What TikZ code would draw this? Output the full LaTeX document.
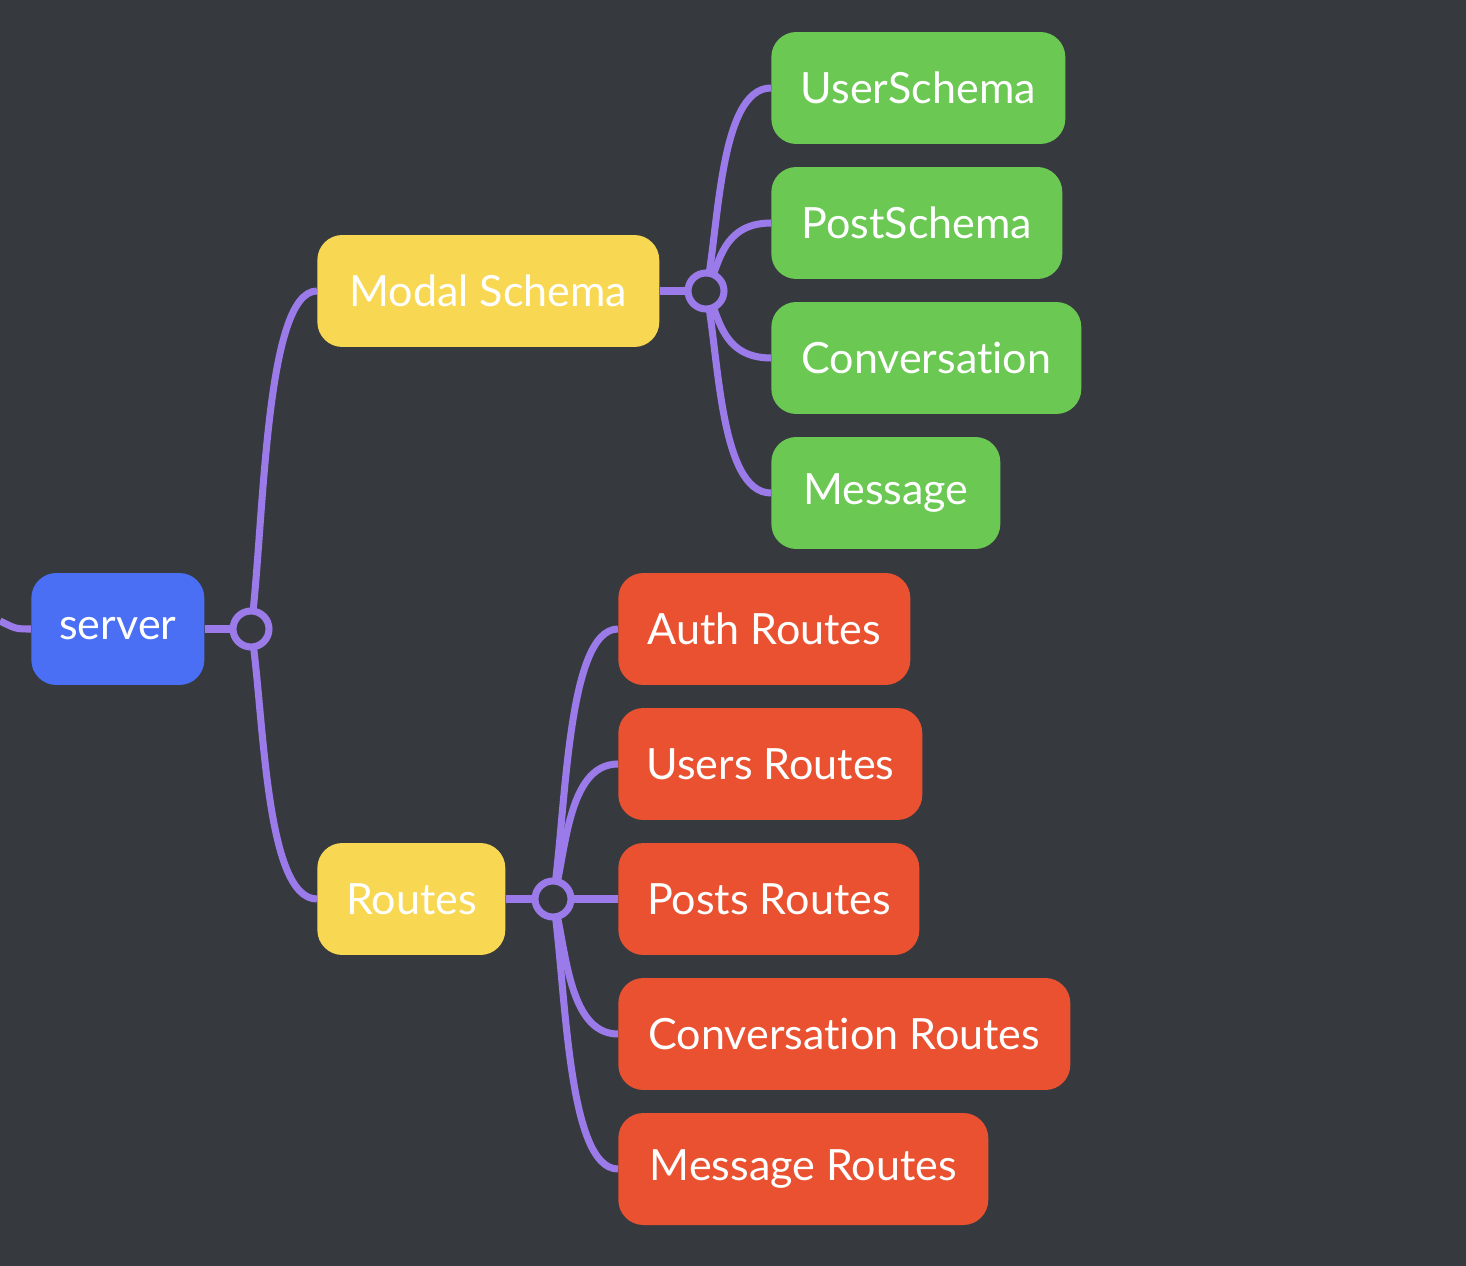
\documentclass[tikz,border=0pt]{standalone}
\usepackage{fontspec}
\setmainfont{Lato}[Ligatures=NoCommon]
\usetikzlibrary{calc,backgrounds}

\definecolor{bgdark}{HTML}{363A3F}
\definecolor{rootblue}{HTML}{4A6FF5}
\definecolor{mainyellow}{HTML}{F8D752}
\definecolor{subgreen}{HTML}{6AC853}
\definecolor{subred}{HTML}{E95131}
\definecolor{linkpurple}{HTML}{9B7BE9}

\pgfdeclarelayer{links}
\pgfsetlayers{background,links,main}

\tikzset{
  topic/.style={rounded corners=0.5cm, text=white, minimum height=2.24cm,
    inner sep=0pt, anchor=west, font=\fontsize{24.5}{29}\selectfont},
  root/.style={topic, fill=rootblue},
  main/.style={topic, fill=mainyellow},
  schema/.style={topic, fill=subgreen},
  route/.style={topic, fill=subred},
  branch/.style={draw=linkpurple, line width=4pt},
  hub/.style={circle, draw=linkpurple, line width=4pt, fill=bgdark,
    minimum size=0.72cm, inner sep=0pt},
}

% curved link from a hub to the west side of a topic
\newcommand{\branch}[2]{%
  \draw[branch] let \p1=(#1.center), \p2=(#2.west) in
    (\p1) .. controls ({\x1+0.2*(\x2-\x1)},{\y1+0.3*(\y2-\y1)})
          and ({\x1+0.2*(\x2-\x1)},\y2) .. (\p2);}

\begin{document}
\begin{tikzpicture}[x=0.02cm, y=-0.02cm]
  \useasboundingbox (0,0) rectangle (1466,1266);
  \begin{pgfonlayer}{background}
    \fill[bgdark] (0,0) rectangle (1466,1266);
  \end{pgfonlayer}

  % root
  \node[root, minimum width=3.46cm] (server) at (31,629) {server};
  \node[hub] (srvhub) at (251,629) {};

  % main topics
  \node[main, minimum width=6.84cm] (modal) at (317,291) {Modal Schema};
  \node[main, minimum width=3.76cm] (routes) at (317,899) {Routes};
  \node[hub] (modalhub) at (706,291) {};
  \node[hub] (routeshub) at (553,899) {};

  % schemas
  \node[schema, minimum width=5.88cm] (userschema) at (771,88) {UserSchema};
  \node[schema, minimum width=5.82cm] (postschema) at (771,223) {PostSchema};
  \node[schema, minimum width=6.20cm] (conv) at (771,358) {Conversation};
  \node[schema, minimum width=4.58cm] (msg) at (771,493) {Message};

  % routes
  \node[route, minimum width=5.84cm] (authr) at (618,629) {Auth Routes};
  \node[route, minimum width=6.08cm] (usersr) at (618,764) {Users Routes};
  \node[route, minimum width=6.02cm] (postsr) at (618,899) {Posts Routes};
  \node[route, minimum width=9.04cm] (convr) at (618,1034) {Conversation Routes};
  \node[route, minimum width=7.40cm] (msgr) at (618,1169) {Message Routes};

  \coordinate (upstream) at (0,621);

  \begin{pgfonlayer}{links}
    \draw[branch] (upstream) .. controls (16,629) .. (server.west);
    \draw[branch] (server.east) -- (srvhub.center);
    \draw[branch] (modal.east) -- (modalhub.center);
    \draw[branch] (routes.east) -- (routeshub.center);
    \branch{srvhub}{modal}
    \branch{srvhub}{routes}
    \branch{modalhub}{userschema}
    \branch{modalhub}{postschema}
    \branch{modalhub}{conv}
    \branch{modalhub}{msg}
    \branch{routeshub}{authr}
    \branch{routeshub}{usersr}
    \branch{routeshub}{postsr}
    \branch{routeshub}{convr}
    \branch{routeshub}{msgr}
  \end{pgfonlayer}
\end{tikzpicture}
\end{document}
